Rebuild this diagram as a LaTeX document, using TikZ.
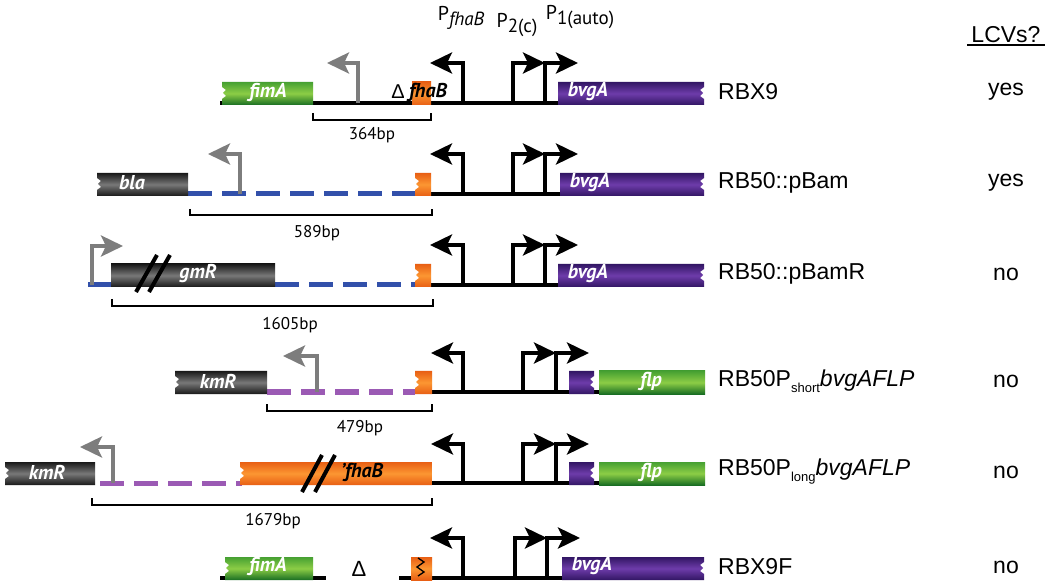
\documentclass[tikz,border=0pt]{standalone}
\usepackage{fontspec}
\setmainfont{PT Sans}
\newfontfamily\arialf{Liberation Sans}
\usetikzlibrary{arrows.meta}
\definecolor{grnD}{RGB}{25,110,35}
\definecolor{grnM}{RGB}{70,160,50}
\definecolor{grnL}{RGB}{140,205,70}
\definecolor{purD}{RGB}{50,22,100}
\definecolor{purL}{RGB}{110,60,170}
\definecolor{orgD}{RGB}{232,95,20}
\definecolor{orgL}{RGB}{252,150,50}
\definecolor{gryD}{RGB}{25,25,25}
\definecolor{gryL}{RGB}{120,120,120}
\definecolor{dnaBlue}{RGB}{50,80,170}
\definecolor{dnaPurple}{RGB}{155,90,180}
\definecolor{promGray}{RGB}{125,125,125}
\newcommand\gbN[4]{\shade[#4] (#1,#3-21) rectangle (#2,#3+2);}
\newcommand\gbL[4]{\shade[#4] (#1,#3-21) -- (#2,#3-21) -- (#2,#3+2) -- (#1,#3+2) -- (#1,#3-4) -- (#1+4,#3-7) -- (#1+1,#3-10) -- (#1+4,#3-13) -- (#1,#3-16) -- cycle;}
\newcommand\gbR[4]{\shade[#4] (#1,#3-21) -- (#2,#3-21) -- (#2,#3-16) -- (#2-4,#3-13) -- (#2-1,#3-10) -- (#2-4,#3-7) -- (#2,#3-4) -- (#2,#3+2) -- (#1,#3+2) -- cycle;}
\tikzset{
  greengene/.style={top color=grnM, bottom color=grnD, middle color=grnL},
  purgene/.style={top color=purD, bottom color=purD, middle color=purL},
  orggene/.style={top color=orgD, bottom color=orgD, middle color=orgL},
  blkgene/.style={top color=gryD, bottom color=gryD, middle color=gryL},
  prom/.style={line width=4pt, draw=black, line join=miter, -{Stealth[length=22pt,width=21pt,inset=5pt]}},
  gprom/.style={prom, draw=promGray},
  dna/.style={line width=4pt, draw=black},
  bdash/.style={line width=5pt, draw=dnaBlue, dash pattern=on 24pt off 10pt},
  pdash/.style={line width=5pt, draw=dnaPurple, dash pattern=on 24pt off 10pt},
  brk/.style={line width=1.5pt, draw=black},
  slash/.style={line width=4pt, draw=black},
  genelab/.style={font=\fontsize{20}{20}\selectfont\bfseries\itshape, text=white, inner sep=0pt},
  bplab/.style={font=\fontsize{17}{17}\selectfont, inner sep=0pt},
  strain/.style={font=\arialf\fontsize{23}{23}\selectfont, anchor=west, inner sep=0pt},
  answer/.style={font=\arialf\fontsize{23}{23}\selectfont, inner sep=0pt},
  plab/.style={font=\fontsize{20}{20}\selectfont, inner sep=0pt},
}
\begin{document}
\begin{tikzpicture}[x=1pt,y=-1pt]
\useasboundingbox[fill=white] (0,0) rectangle (1050,585);
% ---------- top labels ----------
\node[plab] (pf) at (461,18) {P\raisebox{-5pt}{\fontsize{19}{19}\selectfont\itshape fhaB}};
\node[plab] (p2) at (517,25) {P\raisebox{-5pt}{\fontsize{19}{19}\selectfont 2(c)}};
\node[plab] (p1) at (580,17) {P\raisebox{-5pt}{\fontsize{19}{19}\selectfont 1(auto)}};
\node[answer] (lcv) at (1006,35) {LCVs?};
\coordinate (ulA) at (967,45); \coordinate (ulB) at (1045,45);
\draw[line width=1.5pt] (ulA) -- (ulB);
% ---------- Row 1 : RBX9 (line 103) ----------
\draw[dna] (220,103) -- (600,103);
\gbL{222}{313}{103}{greengene}
\gbN{412}{431}{103}{orggene}
\gbR{558}{704}{103}{purgene}
\draw[gprom] (358,103) |- (327,63);
\draw[prom] (463,103) |- (430,63);
\draw[prom] (513,103) |- (545,63);
\draw[prom] (545,103) |- (578,63);
\node[genelab] (g1a) at (268,92) {fimA};
\node[font=\arialf\fontsize{20}{20}\selectfont, inner sep=0pt] (g1d) at (398,92) {Δ};
\node[genelab, text=black] (g1b) at (428,92) {fhaB};
\node[genelab] (g1c) at (588,92) {bvgA};
\draw[brk] (313,113) -- (313,120) -- (431,120) -- (431,113);
\node[bplab] (b1) at (372,135) {364bp};
\node[strain] (s1) at (718,92) {RBX9};
\node[answer] (a1) at (1006,92) {yes};
% ---------- Row 2 : RB50::pBam (line 194) ----------
\draw[bdash] (188,194) -- (415,194);
\draw[dna] (430,194) -- (600,194);
\gbL{97}{188}{194}{blkgene}
\gbL{415}{431}{194}{orggene}
\gbR{560}{704}{194}{purgene}
\draw[gprom] (240,194) |- (208,154);
\draw[prom] (463,194) |- (430,154);
\draw[prom] (513,194) |- (545,154);
\draw[prom] (545,194) |- (578,154);
\node[genelab] (g2a) at (132,183) {bla};
\node[genelab] (g2c) at (590,183) {bvgA};
\draw[brk] (190,209) -- (190,215) -- (432,215) -- (432,209);
\node[bplab] (b2) at (317,233) {589bp};
\node[strain] (s2) at (718,183) {RB50::pBam};
\node[answer] (a2) at (1006,183) {yes};
% ---------- Row 3 : RB50::pBamR (line 285) ----------
\draw[line width=5pt, draw=dnaBlue] (88,285) -- (112,285);
\draw[bdash] (275,285) -- (415,285);
\draw[dna] (430,285) -- (600,285);
\gbN{111}{275}{285}{blkgene}
\gbL{415}{431}{285}{orggene}
\gbR{558}{704}{285}{purgene}
\draw[slash] (136,292) -- (157,255);
\draw[slash] (149,292) -- (170,255);
\draw[gprom] (92,285) |- (123,246);
\draw[prom] (463,285) |- (430,245);
\draw[prom] (513,285) |- (545,245);
\draw[prom] (545,285) |- (578,245);
\node[genelab] (g3a) at (198,274) {gmR};
\node[genelab] (g3c) at (588,274) {bvgA};
\draw[brk] (112,299) -- (112,306) -- (433,306) -- (433,299);
\node[bplab] (b3) at (290,325) {1605bp};
\node[strain] (s3) at (718,274) {RB50::pBamR};
\node[answer] (a3) at (1006,274) {no};
% ---------- Row 4 : RB50Pshort (line 392) ----------
\draw[pdash] (267,392) -- (415,392);
\draw[dna] (431,392) -- (600,392);
\gbL{175}{267}{392}{blkgene}
\gbL{415}{432}{392}{orggene}
\gbR{569}{594}{392}{purgene}
\gbN{599}{705}{392}{greengene}
\draw[gprom] (317,392) |- (283,356);
\draw[prom] (463,392) |- (431,353);
\draw[prom] (523,392) |- (556,353);
\draw[prom] (556,392) |- (589,353);
\node[genelab] (g4a) at (218,381) {kmR};
\node[genelab] (g4c) at (651,381) {flp};
\draw[brk] (267,404) -- (267,411) -- (432,411) -- (432,404);
\node[bplab] (b4) at (360,428) {479bp};
\node[strain] (s4) at (718,381) {RB50P\raisebox{-6pt}{\fontsize{13}{13}\selectfont short}\textit{bvgAFLP}};
\node[answer] (a4) at (1006,381) {no};
% ---------- Row 5 : RB50Plong (line 483) ----------
\draw[pdash] (100,483) -- (242,483);
\draw[dna] (431,483) -- (600,483);
\gbL{5}{95}{483}{blkgene}
\gbL{240}{432}{483}{orggene}
\gbR{569}{594}{483}{purgene}
\gbN{599}{705}{483}{greengene}
\draw[slash] (302,492) -- (322,455);
\draw[slash] (315,492) -- (335,455);
\draw[gprom] (113,483) |- (80,447);
\draw[prom] (463,483) |- (431,444);
\draw[prom] (523,483) |- (556,444);
\draw[prom] (556,483) |- (589,444);
\node[genelab] (g5a) at (47,472) {kmR};
\node[genelab, text=black] (g5b) at (362,472) {'fhaB};
\node[genelab] (g5c) at (651,472) {flp};
\draw[brk] (92,498) -- (92,505) -- (432,505) -- (432,498);
\node[bplab] (b5) at (273,521) {1679bp};
\node[strain] (s5) at (718,472) {RB50P\raisebox{-6pt}{\fontsize{13}{13}\selectfont long}\textit{bvgAFLP}};
\node[answer] (a5) at (1006,472) {no};
% ---------- Row 6 : RBX9F (line 578) ----------
\draw[dna] (220,578) -- (326,578);
\draw[dna] (399,578) -- (600,578);
\gbL{225}{313}{578}{greengene}
\gbN{411}{432}{578}{orggene}
\draw[line width=1.3pt] (418,558) -- (424,562) -- (417,567) -- (424,572) -- (418,576);
\gbR{562}{704}{578}{purgene}
\draw[prom] (463,578) |- (430,538);
\draw[prom] (515,578) |- (547,538);
\draw[prom] (547,578) |- (580,538);
\node[genelab] (g6a) at (268,566) {fimA};
\node[font=\arialf\fontsize{22}{22}\selectfont, inner sep=0pt] (g6d) at (359,569) {Δ};
\node[genelab] (g6c) at (592,566) {bvgA};
\node[strain] (s6) at (718,567) {RBX9F};
\node[answer] (a6) at (1006,567) {no};
\end{tikzpicture}
\end{document}
